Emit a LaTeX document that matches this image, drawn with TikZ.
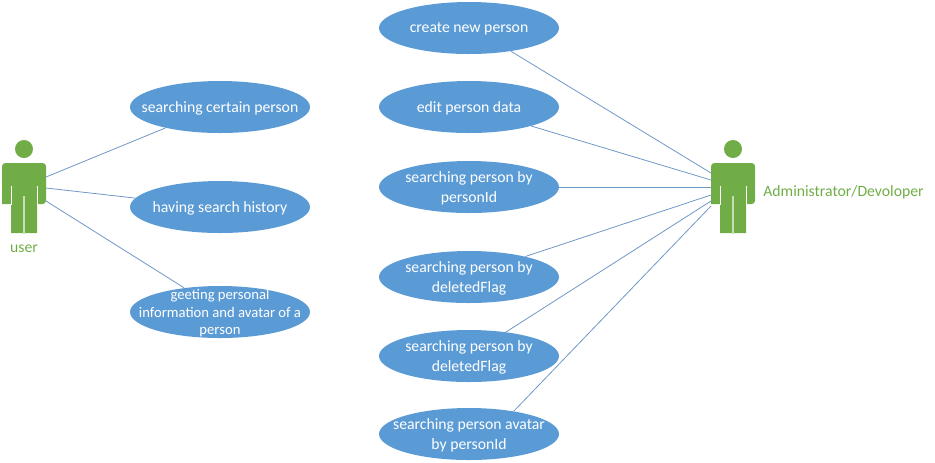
\documentclass[tikz,border=0pt]{standalone}
\usepackage{fontspec}
\setmainfont{Carlito}
\usetikzlibrary{shapes.geometric}
\definecolor{caseblue}{HTML}{5B9BD5}
\definecolor{actorgreen}{HTML}{70AD47}
\definecolor{linkblue}{HTML}{6F97C8}
\tikzset{
  usecase/.style={ellipse, fill=caseblue, text=white, minimum width=135pt, minimum height=39pt,
    inner sep=-25pt, text depth=0pt, align=center, font=\fontsize{11.8}{15}\selectfont},
  actorname/.style={text=actorgreen, inner sep=0pt, font=\fontsize{11.8}{13}\selectfont},
  link/.style={linkblue, line width=0.6pt},
  actor/.pic={
    \fill[actorgreen] (0,0) circle (9);
    \fill[actorgreen, rounded corners=2.5pt] (-22,55) -- (-22,14) -- (22,14) -- (22,55) [sharp corners] -- (13,55) -- (13,84) -- (-13,84) -- (-13,55) -- cycle;
    \draw[white, line width=0.6pt] (-13,37) -- (-13,55.5);
    \draw[white, line width=0.6pt] (13,37) -- (13,55.5);
    \draw[actorgreen!40!white, line width=0.9pt] (0,47) -- (0,84.5);
  }
}

\begin{document}
\begin{tikzpicture}[x=0.75pt, y=-0.75pt]
    \useasboundingbox (0,0) rectangle (935,462);
    %Actors
    \pic at (24,149) {actor};
    \pic at (733,149) {actor};
    \node[actorname] (user) at (24,248.5) {user};
    \node[actorname] (admin) at (843.5,192.5) {Administrator/Devoloper};
    \coordinate (userA) at (46,177);
    \coordinate (userB) at (46,188);
    \coordinate (userC) at (46,201);
    \coordinate (adminA) at (711,173);
    \coordinate (adminB) at (711,180);
    \coordinate (adminC) at (711,187);
    \coordinate (adminD) at (711,195);
    \coordinate (adminE) at (711,201);
    \coordinate (adminF) at (711,206);
    %Use cases
    \node[usecase] (certain) at (220,107) {searching certain person};
    \node[usecase] (history) at (220,207) {having search history};
    \node[usecase, font=\fontsize{11}{13}\selectfont] (avatar) at (220,312) {geeting personal\\information and avatar of a\\person};
    \node[usecase] (create) at (469,28) {create new person};
    \node[usecase] (edit) at (469,107) {edit person data};
    \node[usecase] (byid) at (469,187) {searching person by\\personId};
    \node[usecase] (flagA) at (469,277) {searching person by\\deletedFlag};
    \node[usecase] (flagB) at (469,356) {searching person by\\deletedFlag};
    \node[usecase] (byavatar) at (469,434) {searching person avatar\\by personId};
    %Links
    \draw[link] (userA) -- (certain.201);
    \draw[link] (userB) -- (history.174);
    \draw[link] (userC) -- (avatar.146);
    \draw[link] (adminA) -- (create.-29);
    \draw[link] (adminB) -- (edit.-17);
    \draw[link] (adminC) -- (byid.0);
    \draw[link] (adminD) -- (flagA.20);
    \draw[link] (adminE) -- (flagB.33);
    \draw[link] (adminF) -- (byavatar.27);
\end{tikzpicture}
\end{document}
